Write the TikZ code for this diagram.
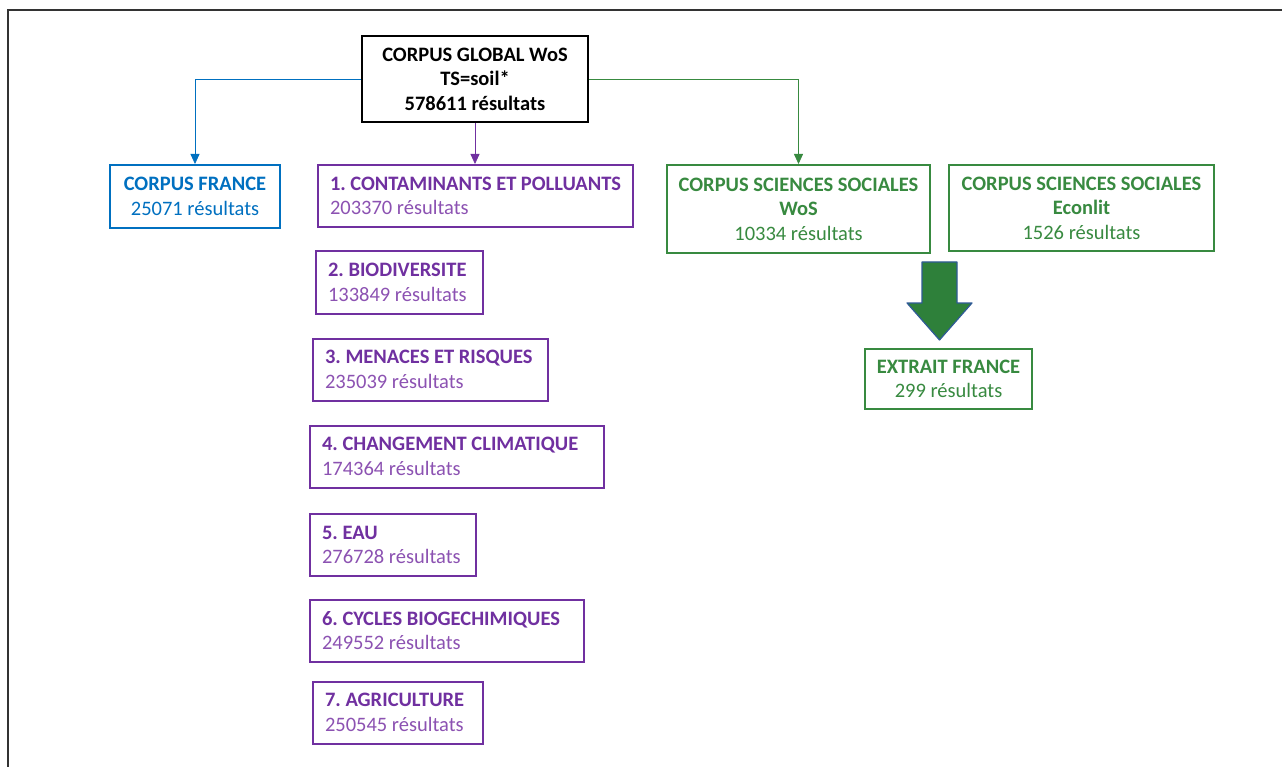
\documentclass[tikz,border=0pt]{standalone}
\usepackage{fontspec}
\setmainfont{Carlito}
\usetikzlibrary{arrows.meta}
\definecolor{wosblue}{RGB}{0,112,192}
\definecolor{thdark}{RGB}{112,48,160}
\definecolor{thlight}{RGB}{140,82,178}
\definecolor{ssgreen}{RGB}{56,138,64}
\definecolor{arrgreen}{RGB}{46,128,58}
\definecolor{arredge}{RGB}{47,90,150}
\begin{document}
\begin{tikzpicture}[x=1pt,y=-1pt,
  every node/.style={font=\fontsize{20.5}{24.5}\selectfont, inner sep=0pt},
  box/.style={draw, line width=2pt, minimum height=62pt},
  themebox/.style={box, draw=thdark, text=thlight, align=flush left, inner xsep=12pt},
  tip/.style={-{Triangle[length=10pt,width=9pt]}, line width=0.8pt}]
\useasboundingbox (0,0) rectangle (1282,767);
\clip (0,0) rectangle (1282,767);
\fill[white] (0,0) rectangle (1282,767);
% frame
\draw[line width=2pt, black!80] (8,800) -- (8,10) -- (1300,10);

% corpus global
\node[box, line width=2.4pt, minimum width=226pt, minimum height=86pt, align=center, font=\fontsize{20.5}{24.5}\selectfont\bfseries]
  (global) at (475,79) {CORPUS GLOBAL WoS\\TS=soil*\\578611 résultats};

% corpus france
\node[box, draw=wosblue, text=wosblue, minimum width=170pt, minimum height=63pt, align=center]
  (france) at (195,196.5) {\textbf{CORPUS FRANCE}\\25071 résultats};

% themes
\foreach \i/\cx/\cy/\w/\nm/\res in {
  1/475.5/196/315/CONTAMINANTS ET POLLUANTS/203370,
  2/399.5/282.5/167/BIODIVERSITE/133849,
  3/430.5/369.5/235/MENACES ET RISQUES/235039,
  4/457/456.5/294/CHANGEMENT CLIMATIQUE/174364,
  5/393/545/166/EAU/276728,
  6/447/630.5/274/CYCLES BIOGECHIMIQUES/249552,
  7/398/712.5/170/AGRICULTURE/250545}
  \node[themebox, minimum width=\w pt, text width=\w pt-24pt] (theme\i) at (\cx,\cy)
    {\textbf{\color{thdark}\i.\ \nm}\\\res{} résultats};

% sciences sociales
\node[box, draw=ssgreen, text=ssgreen, minimum width=263pt, minimum height=88pt, align=center]
  (sswos) at (798.5,209) {\textbf{CORPUS SCIENCES SOCIALES}\\\textbf{WoS}\\10334 résultats};
\node[box, draw=ssgreen, text=ssgreen, minimum width=265pt, minimum height=86pt, align=center]
  (econlit) at (1081.5,208) {\textbf{CORPUS SCIENCES SOCIALES}\\\textbf{Econlit}\\1526 résultats};
\node[box, draw=ssgreen, text=ssgreen, minimum width=167pt, minimum height=60pt, align=center]
  (extrait) at (948.5,379) {\textbf{EXTRAIT FRANCE}\\299 résultats};

% big arrow
\filldraw[fill=arrgreen, draw=arredge, line width=1.2pt, line join=round]
  (922,262) -- (957,262) -- (957,303) -- (972,303) -- (939.5,340) -- (907,303) -- (922,303) -- cycle;

% connectors
\draw[tip, wosblue] (global.west) -| (france.north);
\draw[tip, thdark] (global.south) -- (global.south |- theme1.north);
\draw[tip, ssgreen] (global.east) -| (sswos.north);
\end{tikzpicture}
\end{document}
